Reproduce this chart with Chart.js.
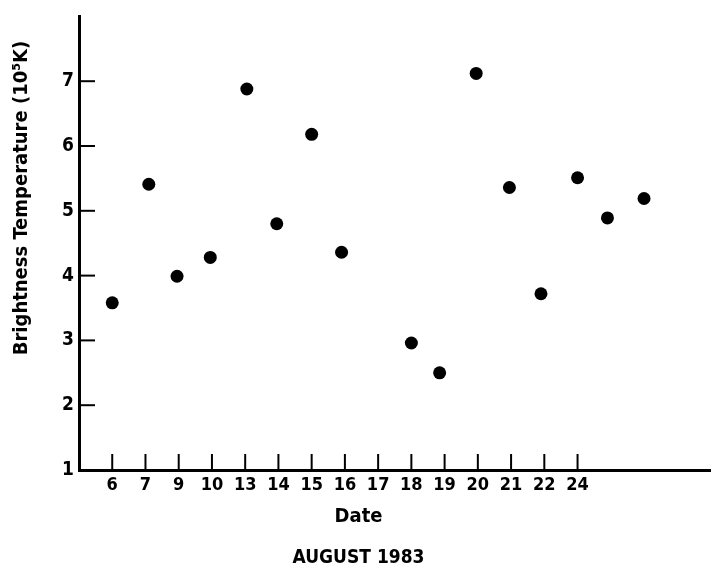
<!DOCTYPE html>
<html>
<head>
<meta charset="utf-8">
<script src="https://cdn.jsdelivr.net/npm/chart.js@4.4.1/dist/chart.umd.min.js"></script>
<style>
  html, body { margin: 0; padding: 0; background: #fff; }
  #wrap { width: 717px; height: 572px; }
</style>
</head>
<body>
<div id="wrap"><canvas id="chart"></canvas></div>
<script>
// dias de agosto marcados no eixo x (um tick por posicao)
const dateLabels = ['6', '7', '9', '10', '13', '14', '15', '16', '17', '18', '19', '20', '21', '22', '24'];
// posicao de cada ponto na escala dos ticks (0 = "6")
const obsPos = [0, 1.1, 1.95, 2.95, 4.05, 4.95, 6.0, 6.9, 9.0, 9.85, 10.95, 11.95, 12.9, 14.0, 14.9, 16.0];
// temperatura de brilho (10^5 K)
const brightTemp = [3.58, 5.41, 3.99, 4.28, 6.88, 4.8, 6.18, 4.36, 2.96, 2.5, 7.12, 5.36, 3.72, 5.51, 4.89, 5.19];
const tempTicks = [1, 2, 3, 4, 5, 6, 7];

const FONT = "'DejaVu Sans Condensed', 'DejaVu Sans', sans-serif";

// marcas dos ticks para dentro + titulo do eixo y
const inwardTicks = {
    id: 'inwardTicks',
    afterDraw(chart) {
        const ctx = chart.ctx;
        const x = chart.scales.x, y = chart.scales.y;
        const area = chart.chartArea;
        ctx.save();
        ctx.strokeStyle = '#000';
        ctx.lineWidth = 2;
        tempTicks.forEach(v => {
            if (v === 1) return;
            const py = y.getPixelForValue(v);
            ctx.beginPath(); ctx.moveTo(area.left, py); ctx.lineTo(area.left + 16, py); ctx.stroke();
        });
        dateLabels.forEach((l, i) => {
            const px = x.getPixelForValue(i);
            ctx.beginPath(); ctx.moveTo(px, area.bottom); ctx.lineTo(px, area.bottom - 16); ctx.stroke();
        });
        // titulo do eixo y
        ctx.translate(22, 198);
        ctx.rotate(-Math.PI / 2);
        ctx.fillStyle = '#000';
        ctx.font = 'bold 20px ' + FONT;
        ctx.textAlign = 'center';
        ctx.textBaseline = 'middle';
        ctx.fillText('Brightness Temperature (10\u2075K)', 0, 0);
        ctx.restore();
    }
};

new Chart(document.getElementById('chart'), {
    type: 'scatter',
    data: {
        datasets: [{
            label: 'Brightness Temperature',
            data: obsPos.map((p, i) => ({ x: p, y: brightTemp[i] })),
            backgroundColor: '#000',
            borderWidth: 0,
            pointRadius: 6.5
        }]
    },
    options: {
        responsive: true,
        maintainAspectRatio: false,
        animation: false,
        layout: { padding: { top: 7, right: 0, bottom: 0, left: 0 } },
        plugins: {
            legend: { display: false },
            tooltip: { enabled: false },
            subtitle: {
                display: true, position: 'bottom', text: 'Date', color: '#000',
                font: { family: FONT, size: 20, weight: 'bold' },
                padding: { top: 5, bottom: 4 }
            },
            title: {
                display: true, position: 'bottom', text: 'AUGUST 1983', color: '#000',
                font: { family: FONT, size: 19, weight: 'bold' },
                padding: { top: 13.6, bottom: 2.6 }
            }
        },
        scales: {
            x: {
                type: 'linear', min: -1, max: 18,
                afterBuildTicks: s => { s.ticks = dateLabels.map((l, i) => ({ value: i })); },
                afterFit: s => { s.height = 30; },
                grid: { display: false, drawTicks: false },
                border: { display: true, color: '#000', width: 3 },
                ticks: {
                    autoSkip: false, maxRotation: 0, padding: 5, color: '#000',
                    font: { family: FONT, size: 18, weight: 'bold' },
                    callback: v => dateLabels[v] ?? ''
                }
            },
            y: {
                min: 1, max: 8,
                afterBuildTicks: s => { s.ticks = tempTicks.map(v => ({ value: v })); },
                afterFit: s => { s.width = 79; },
                grid: { display: false, drawTicks: false },
                border: { display: true, color: '#000', width: 3 },
                ticks: {
                    padding: 5, color: '#000',
                    font: { family: FONT, size: 19, weight: 'bold' }
                }
            }
        }
    },
    plugins: [inwardTicks]
});
</script>
</body>
</html>
